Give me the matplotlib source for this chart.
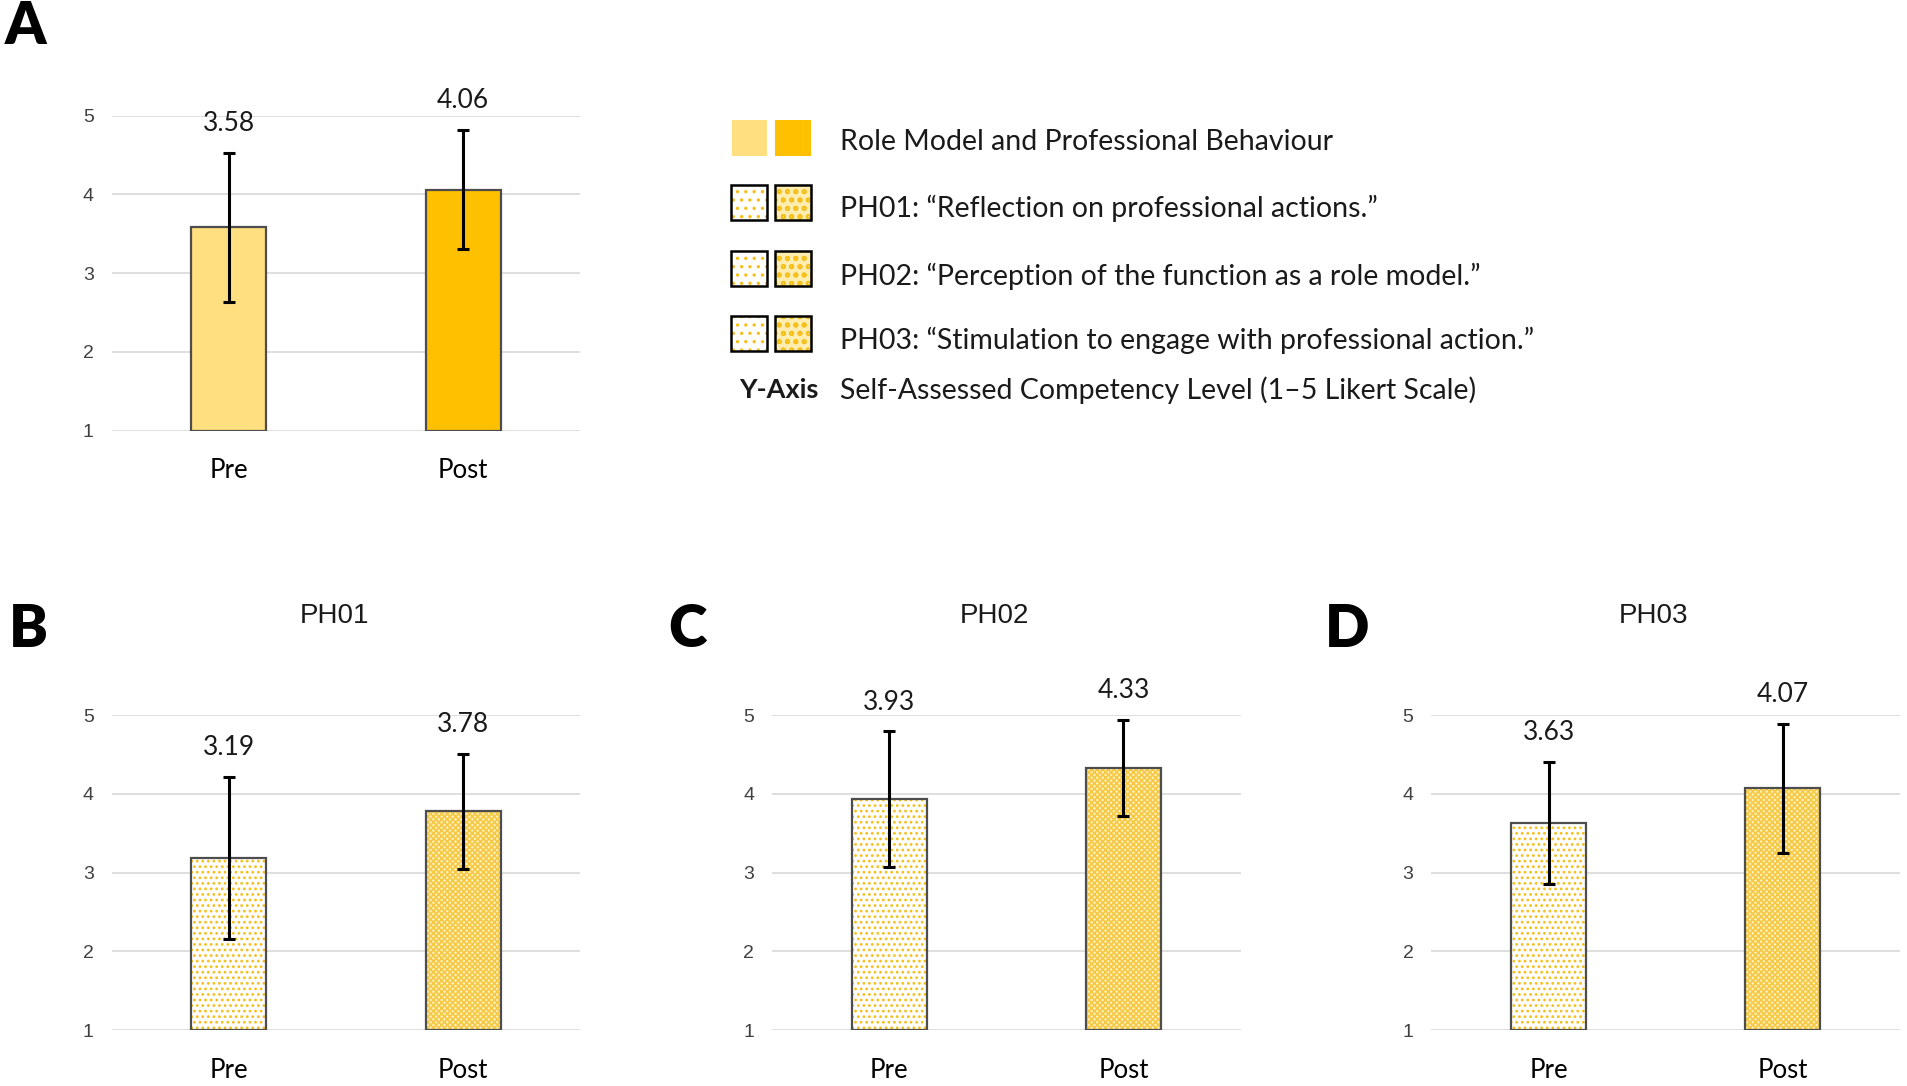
import numpy as np
import matplotlib
matplotlib.use("Agg")
import matplotlib.pyplot as plt
from matplotlib.patches import Rectangle

plt.rcParams["font.family"] = ["Lato", "DejaVu Sans"]
plt.rcParams["hatch.linewidth"] = 1.2

# data
groups = ["Pre", "Post"]
y_ticks = [1, 2, 3, 4, 5]

role_means = [3.58, 4.06]
role_sd = [0.95, 0.76]

ph01_means = [3.19, 3.78]
ph01_sd = [1.03, 0.73]
ph02_means = [3.93, 4.33]
ph02_sd = [0.865, 0.61]
ph03_means = [3.63, 4.07]
ph03_sd = [0.78, 0.82]

panel_titles = ["PH01", "PH02", "PH03"]
panel_letters = ["A", "B", "C", "D"]

legend_labels = [
    "Role Model and Professional Behaviour",
    "PH01: \u201cReflection on professional actions.\u201d",
    "PH02: \u201cPerception of the function as a role model.\u201d",
    "PH03: \u201cStimulation to engage with professional action.\u201d",
]
y_axis_note = "Self-Assessed Competency Level (1\u20135 Likert Scale)"

# styling
PRE_GOLD = "#FFDF80"
POST_GOLD = "#FFC000"
DOT_GOLD = "#F5BF1A"
EDGE = "#4D4D4D"
GRID = "#D9D9D9"

W, H = 1568, 893  # layout grid in reference pixels


def rect(x0, x1, ytop, ybot):
    return [x0 / W, 1 - ybot / H, (x1 - x0) / W, (ybot - ytop) / H]


def draw_panel(ax, means, sds, patterned):
    x = np.arange(len(groups))
    heights = np.array(means) - 1
    if patterned:
        ax.bar(x[0], heights[0], bottom=1, width=0.32, color="white",
               edgecolor=DOT_GOLD, hatch="...", lw=0, zorder=2)
        ax.bar(x[1], heights[1], bottom=1, width=0.32, color="#FFF0BA",
               edgecolor="#F5C945", hatch="xxxxxx", lw=0, zorder=2)
        ax.bar(x, heights, bottom=1, width=0.32, fill=False,
               edgecolor=EDGE, lw=1.6, zorder=3)
    else:
        ax.bar(x, heights, bottom=1, width=0.32, color=[PRE_GOLD, POST_GOLD],
               edgecolor=EDGE, lw=1.6, zorder=3)
    ax.errorbar(x, means, yerr=sds, fmt="none", ecolor="black", elinewidth=2.2,
                capsize=4, capthick=2.2, zorder=4, clip_on=False)
    for xi, m, s in zip(x, means, sds):
        ax.annotate(f"{m:.2f}", (xi, m + s), xytext=(0, 21),
                    textcoords="offset points", ha="center", va="center",
                    fontsize=19, color="#1a1a1a", annotation_clip=False)
    ax.set_xlim(-0.5, 1.5)
    ax.set_ylim(1, 5)
    ax.set_yticks(y_ticks)
    ax.set_xticks(x)
    ax.set_xticklabels(groups, fontsize=18.5)
    ax.tick_params(axis="x", length=0, pad=20)
    ax.tick_params(axis="y", length=0, pad=13, labelsize=14, labelcolor="#404040")
    for lab in ax.get_yticklabels():
        lab.set_family(["Liberation Sans", "DejaVu Sans"])
    ax.yaxis.grid(True, color=GRID, lw=1.2)
    ax.set_axisbelow(True)
    for sp in ax.spines.values():
        sp.set_visible(False)


fig = plt.figure(figsize=(19.07, 10.86), dpi=100)

axA = fig.add_axes(rect(92, 477, 95, 354))
axB = fig.add_axes(rect(92, 477, 588, 847))
axC = fig.add_axes(rect(635, 1020, 588, 847))
axD = fig.add_axes(rect(1177, 1562, 588, 847))

draw_panel(axA, role_means, role_sd, patterned=False)
for ax, means, sds, title in zip([axB, axC, axD],
                                 [ph01_means, ph02_means, ph03_means],
                                 [ph01_sd, ph02_sd, ph03_sd], panel_titles):
    draw_panel(ax, means, sds, patterned=True)
    ax.set_title(title, fontsize=20, family=["Liberation Sans", "DejaVu Sans"],
                 color="#1a1a1a", pad=66, x=0.475)

# overlay for panel letters and the legend
lax = fig.add_axes([0, 0, 1, 1])
lax.set_xlim(0, W)
lax.set_ylim(H, 0)
lax.axis("off")
lax.set_facecolor("none")

for letter, (lx, ly) in zip(panel_letters, [(21, 22), (23, 518), (565, 518), (1108, 518)]):
    lax.text(lx, ly, letter, ha="center", va="center", fontsize=42,
             fontweight="heavy", color="black")

# legend swatches
lax.add_patch(Rectangle((602, 99), 29, 29, fc=PRE_GOLD, ec="none"))
lax.add_patch(Rectangle((637, 99), 30, 29, fc=POST_GOLD, ec="none"))
for ytop in [152, 206, 260]:
    lax.add_patch(Rectangle((601, ytop), 30, 29, fc="white", ec=DOT_GOLD,
                            hatch="..", lw=0))
    lax.add_patch(Rectangle((601, ytop), 30, 29, fill=False, ec="black", lw=1.8))
    lax.add_patch(Rectangle((637, ytop), 30, 29, fc="#FFEDB0", ec=DOT_GOLD,
                            hatch="oo", lw=0))
    lax.add_patch(Rectangle((637, ytop), 30, 29, fill=False, ec="black", lw=1.8))

for label, ty in zip(legend_labels, [117, 171, 227, 280]):
    lax.text(691, ty, label, ha="left", va="center", fontsize=20.5, color="#1a1a1a")
lax.text(608, 321, "Y-Axis", ha="left", va="center", fontsize=19.5,
         fontweight="bold", color="#1a1a1a")
lax.text(691, 321, y_axis_note, ha="left", va="center", fontsize=20.5, color="#1a1a1a")

fig.savefig("out.png", dpi=100)
